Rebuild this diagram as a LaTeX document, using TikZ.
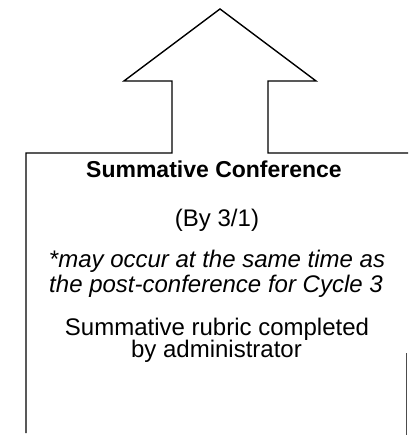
\documentclass[tikz,border=0pt]{standalone}
\usepackage{fontspec}
\setmainfont{Liberation Sans}
\begin{document}
\begin{tikzpicture}[x=1pt,y=-1pt,
  outline/.style={draw=black,line width=1.4pt,line join=miter},
  txt/.style={inner sep=0pt,anchor=base,font=\fontsize{24}{24}\selectfont},
  boldtxt/.style={inner sep=0pt,anchor=base,font=\fontsize{23}{23}\selectfont\bfseries},
  ittxt/.style={inner sep=0pt,anchor=base,font=\fontsize{24}{24}\selectfont\itshape}]
\useasboundingbox (0,0) rectangle (408,435);
% box with up arrow
\coordinate (bl) at (26,433);
\coordinate (tl) at (26,153);
\coordinate (sl) at (172,153);
\coordinate (sl2) at (172,81);
\coordinate (hl) at (124,81);
\coordinate (apex) at (220,9);
\coordinate (hr) at (316,81);
\coordinate (sr2) at (268,81);
\coordinate (sr) at (268,153);
\coordinate (tr) at (408,153);
\draw[outline] (bl) -- (tl) -- (sl) -- (sl2) -- (hl) -- (apex) -- (hr) -- (sr2) -- (sr) -- (tr);
\coordinate (rt) at (406.5,353);
\coordinate (rb) at (406.5,435);
\draw[outline,line width=1.1pt,black!70] (rt) -- (rb);
% texts
\node[boldtxt] (title) at (214,178) {Summative Conference};
\node[txt] (date) at (217,226) {(By 3/1)};
\node[ittxt] (note1) at (217,267) {*may occur at the same time as};
\node[ittxt] (note2) at (216,292) {the post-conference for Cycle 3};
\node[txt] (rub1) at (217,335) {Summative rubric completed};
\node[txt] (rub2) at (216.5,357.5) {by administrator};
\end{tikzpicture}
\end{document}
